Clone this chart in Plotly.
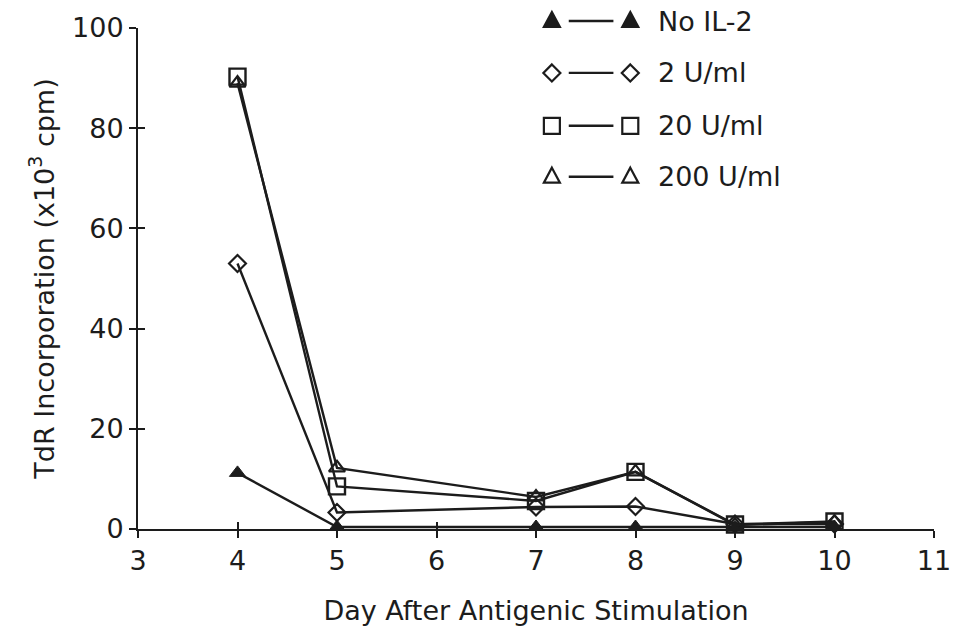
import plotly.graph_objects as go

# Days after antigenic stimulation
days = [4, 5, 7, 8, 9, 10]

# TdR incorporation (x10^3 cpm) for each IL-2 dose
no_il2 = [11.2, 0.4, 0.4, 0.4, 0.3, 0.4]
u2 = [53.0, 3.3, 4.4, 4.5, 1.0, 1.0]
u20 = [90.3, 8.5, 5.6, 11.4, 0.9, 1.5]
u200 = [89.0, 12.2, 6.4, 11.4, 0.8, 1.4]

series_names = ["No IL-2", "2 U/ml", "20 U/ml", "200 U/ml"]

x_ticks = [3, 4, 5, 6, 7, 8, 9, 10, 11]
y_ticks = [0, 20, 40, 60, 80, 100]

INK = "#1c1c1c"
FONT = "DejaVu Sans"
FS = 27
LW = 2.4

styles = [
    dict(symbol="triangle-up", size=14, color=INK, line=dict(color=INK, width=1)),
    dict(symbol="diamond-open", size=13, color=INK, line=dict(color=INK, width=2.2)),
    dict(symbol="square-open", size=16, color=INK, line=dict(color=INK, width=2.4)),
    dict(symbol="triangle-up-open", size=14, color=INK, line=dict(color=INK, width=2.2)),
]

fig = go.Figure()

for name, ys, st in zip(series_names, [no_il2, u2, u20, u200], styles):
    fig.add_trace(go.Scatter(
        x=days, y=ys, mode="lines+markers", name=name,
        line=dict(color=INK, width=LW),
        marker=st, cliponaxis=False, showlegend=False,
    ))

# --- key: symbol, rule, symbol, label; symbols drawn as pixel-sized paths ---
L, T, W, H = 138, 27, 802, 502          # plotting area in page pixels


def px_to_paper(px, py):
    return (px - L) / W, (T + H - py) / H


def glyph_path(kind):
    if kind == "tri":
        return "M0,9 L8,-6 L-8,-6 Z"
    if kind == "dia":
        return "M0,8.5 L8.5,0 L0,-8.5 L-8.5,0 Z"
    return "M-8,-8 L8,-8 L8,8 L-8,8 Z"


key_glyphs = [("tri", True), ("dia", False), ("sq", False), ("tri", False)]
key_rows_px = [20, 72, 125, 176]
sym_left_px, sym_right_px = 555, 634
rule_px = (572, 617)
label_px = 660

for name, (kind, filled), ry in zip(series_names, key_glyphs, key_rows_px):
    for sx in (sym_left_px, sym_right_px):
        ax, ay = px_to_paper(sx, ry)
        fig.add_shape(type="path", xref="paper", yref="paper",
                      xsizemode="pixel", ysizemode="pixel",
                      xanchor=ax, yanchor=ay, path=glyph_path(kind),
                      line=dict(color=INK, width=2.2),
                      fillcolor=INK if filled else "white")
    x0, y0 = px_to_paper(rule_px[0], ry)
    x1, _ = px_to_paper(rule_px[1], ry)
    fig.add_shape(type="line", xref="paper", yref="paper",
                  x0=x0, x1=x1, y0=y0, y1=y0, line=dict(color=INK, width=LW))
    tx, ty = px_to_paper(label_px, ry)
    fig.add_annotation(x=tx, y=ty, xref="paper", yref="paper",
                       text=name, showarrow=False, xanchor="left", yanchor="middle",
                       font=dict(family=FONT, size=FS, color=INK))

axis_common = dict(
    showgrid=False, zeroline=False, showline=True, linecolor=INK, linewidth=2,
    ticks="outside", ticklen=7, tickwidth=2, tickcolor=INK,
    tickfont=dict(family=FONT, size=FS, color=INK),
)

fig.update_layout(
    width=963, height=638,
    margin=dict(l=L, r=963 - L - W, t=T, b=638 - T - H),
    paper_bgcolor="white", plot_bgcolor="white",
    xaxis=dict(range=[3, 11], tickvals=x_ticks, ticktext=[str(v) for v in x_ticks],
               title=dict(text="Day After Antigenic Stimulation",
                          font=dict(family=FONT, size=FS, color=INK), standoff=26),
               **axis_common),
    yaxis=dict(range=[0, 100], tickvals=y_ticks, ticktext=[str(v) for v in y_ticks],
               title=dict(text="TdR Incorporation (x10<sup>3</sup> cpm)",
                          font=dict(family=FONT, size=FS, color=INK), standoff=10),
               **axis_common),
    # mirrored inside ticks so each tick crosses the axis line
    xaxis2=dict(overlaying="x", matches="x", range=[3, 11], tickvals=x_ticks,
                showticklabels=False, ticks="inside", ticklen=7, tickwidth=2,
                tickcolor=INK, showgrid=False, zeroline=False, showline=False),
    yaxis2=dict(overlaying="y", matches="y", range=[0, 100], tickvals=y_ticks,
                showticklabels=False, ticks="inside", ticklen=7, tickwidth=2,
                tickcolor=INK, showgrid=False, zeroline=False, showline=False),
)

# invisible trace to bring the mirrored tick axes into the layout
fig.add_trace(go.Scatter(x=[3], y=[0], xaxis="x2", yaxis="y2", mode="markers",
                         marker=dict(opacity=0), showlegend=False, hoverinfo="skip"))

fig.write_html("out.html")
